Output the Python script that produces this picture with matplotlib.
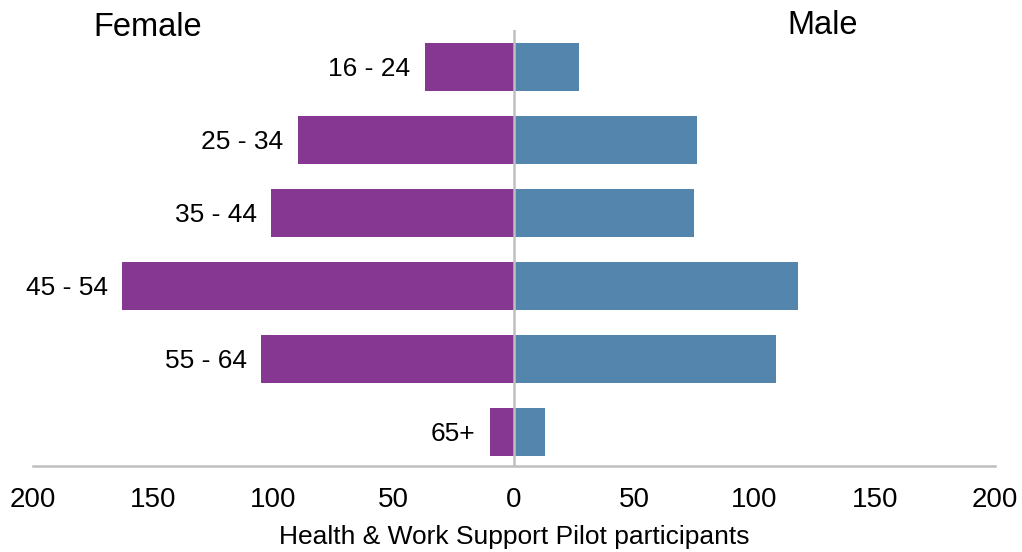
import matplotlib.pyplot as plt

plt.rcParams['font.family'] = ['Liberation Sans', 'DejaVu Sans']

# Age groups and participant counts
age_groups = ["16 - 24", "25 - 34", "35 - 44", "45 - 54", "55 - 64", "65+"]
female = [37, 90, 101, 163, 105, 10]
male = [27, 76, 75, 118, 109, 13]

purple = "#853792"
blue = "#5385AD"
grey = "#BFBFBF"

fig = plt.figure(figsize=(10.22, 5.52), dpi=100)
ax = fig.add_axes([0.0323, 0.156, 0.9413, 0.79])

ypos = range(len(age_groups))
ax.barh(ypos, [-f for f in female], height=0.66, color=purple)
ax.barh(ypos, male, height=0.66, color=blue)

# age labels to the left of the female bars
for y, f, lab in zip(ypos, female, age_groups):
    ax.text(-f - 6, y + 0.03, lab, ha="right", va="center", fontsize=19, color="black")

ax.axvline(0, color=grey, linewidth=1.8, zorder=3)

ax.set_xlim(-200, 200)
ax.set_ylim(5.47, -0.51)
ax.set_xticks([-200, -150, -100, -50, 0, 50, 100, 150, 200])
ax.set_xticklabels(["200", "150", "100", "50", "0", "50", "100", "150", "200"])
ax.tick_params(axis="x", length=0, labelsize=20, pad=15)
ax.set_yticks([])

for side in ["top", "right", "left"]:
    ax.spines[side].set_visible(False)
ax.spines["bottom"].set_color(grey)
ax.spines["bottom"].set_linewidth(1.8)

ax.set_xlabel("Health & Work Support Pilot participants", fontsize=19, labelpad=9)

fig.text(148 / 1022, 1 - 27 / 552, "Female", ha="center", va="center", fontsize=23.5)
fig.text(823 / 1022, 1 - 25 / 552, "Male", ha="center", va="center", fontsize=23.5)

fig.savefig("out.png", dpi=100)
